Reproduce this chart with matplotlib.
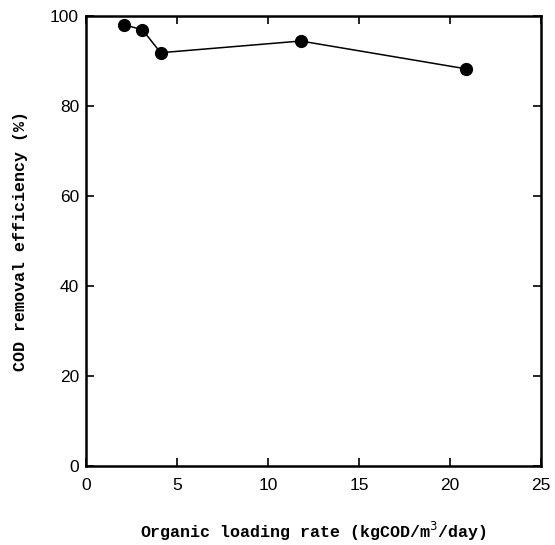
import matplotlib
matplotlib.use('Agg')
import matplotlib.pyplot as plt

# organic loading rate (kgCOD/m3/day) and COD removal (%)
loading_rate = [2.1, 3.1, 4.1, 11.8, 20.9]
cod_removal = [98.0, 96.9, 91.8, 94.4, 88.2]

x_ticks = [0, 5, 10, 15, 20, 25]
y_ticks = [0, 20, 40, 60, 80, 100]

fig = plt.figure(figsize=(5.55, 5.45), dpi=100)
ax = fig.add_axes([0.155, 0.145, 0.82, 0.826])

ax.plot(loading_rate, cod_removal, color='black', lw=1.1,
        marker='o', markersize=8.5, markerfacecolor='black')

ax.set_xlim(0, 25)
ax.set_ylim(0, 100)
ax.set_xticks(x_ticks)
ax.set_yticks(y_ticks)
ax.tick_params(direction='in', length=6, width=1.2, top=True, right=True,
               labelsize=12.5)
ax.tick_params(axis='x', pad=9)
ax.tick_params(axis='y', pad=5)
for lab in ax.get_xticklabels() + ax.get_yticklabels():
    lab.set_family('Liberation Sans')
for s in ax.spines.values():
    s.set_linewidth(1.8)

ax.set_xlabel('Organic loading rate (kgCOD/m$^3$/day)', family='Liberation Mono',
              fontweight='bold', fontsize=12, labelpad=19)
ax.set_ylabel('COD removal efficiency (%)', family='Liberation Mono',
              fontweight='bold', fontsize=12, labelpad=16)

plt.savefig('out.png', dpi=100)
plt.close()
